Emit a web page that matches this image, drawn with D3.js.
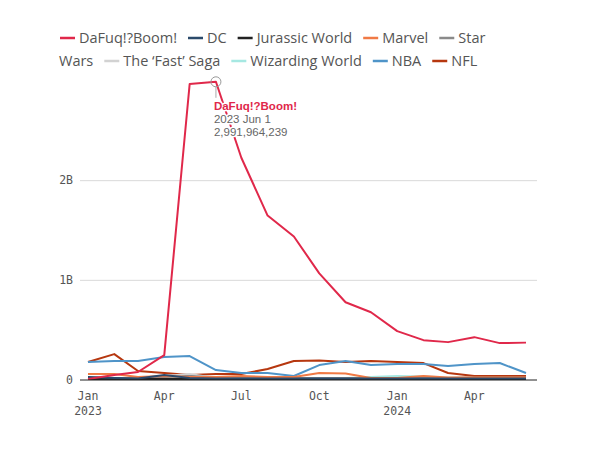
<!DOCTYPE html>
<html>
<head>
<meta charset="utf-8">
<script src="https://cdn.jsdelivr.net/npm/d3@7"></script>
<style>
  body { margin: 0; background: #fff; }
</style>
</head>
<body>
<div id="chart"></div>
<script>

// monthly values, millions
var meses = ["2023-01-01","2023-02-01","2023-03-01","2023-04-01","2023-05-01","2023-06-01",
             "2023-07-01","2023-08-01","2023-09-01","2023-10-01","2023-11-01","2023-12-01",
             "2024-01-01","2024-02-01","2024-03-01","2024-04-01","2024-05-01","2024-06-01"];

var nombres = ["DaFuq!?Boom!", "DC", "Jurassic World", "Marvel", "Star Wars",
               "The \u2018Fast\u2019 Saga", "Wizarding World", "NBA", "NFL"];
var colores = ["#e0284a", "#2b4a6b", "#222222", "#f07a45", "#8a8a8a",
               "#d2d2d2", "#a6e8e2", "#4f94c8", "#b6370f"];

var dafuq     = [10, 50, 80, 250, 2970, 2991.964239, 2230, 1650, 1440, 1070, 780, 680, 490, 400, 380, 430, 370, 375];
var dc        = [30, 20, 15, 50, 20, 15, 15, 15, 15, 15, 15, 15, 15, 15, 15, 15, 15, 15];
var jurassic  = [10, 10, 10, 10, 10, 10, 10, 10, 10, 10, 10, 10, 10, 10, 10, 10, 10, 10];
var marvel    = [60, 60, 30, 40, 30, 30, 40, 30, 30, 70, 65, 20, 20, 40, 25, 25, 25, 25];
var starWars  = [25, 20, 20, 30, 40, 25, 20, 20, 20, 20, 20, 20, 20, 20, 20, 25, 25, 25];
var fastSaga  = [10, 10, 15, 40, 60, 20, 10, 10, 10, 10, 10, 10, 10, 10, 10, 10, 10, 10];
var wizarding = [20, 20, 20, 20, 20, 20, 20, 20, 20, 20, 20, 30, 40, 35, 25, 20, 20, 20];
var nba       = [180, 190, 190, 230, 240, 100, 70, 70, 40, 150, 190, 150, 160, 160, 140, 160, 170, 70];
var nfl       = [180, 260, 90, 70, 50, 60, 60, 110, 190, 195, 180, 190, 180, 170, 70, 40, 40, 40];

var yTicks = [0, 1000, 2000];
var yTickLabels = ["0", "1B", "2B"];

var series = [dafuq, dc, jurassic, marvel, starWars, fastSaga, wizarding, nba, nfl];

var svg = d3.select("#chart").append("svg")
    .attr("width", 600).attr("height", 450);

InicializaGrafico();

function InicializaGrafico() {
    dibujaLeyenda();
    dibujaLineas();
}

function dibujaLeyenda() {
    var g = svg.append("g")
        .attr("font-family", "Open Sans, sans-serif")
        .attr("font-size", 14.5)
        .attr("fill", "#555");
    var x0 = 59, maxX = 500, cx = x0, cy = 38;

    var medir = function (t) {
        var tmp = g.append("text").text(t);
        var w = tmp.node().getComputedTextLength();
        tmp.remove();
        return w;
    };

    for (var i = 0; i < nombres.length; i++) {
        var palabras = nombres[i].split(" ");
        if (cx + 19 + medir(palabras[0]) > maxX) { cx = x0; cy += 23; }
        g.append("line")
            .attr("x1", cx + 1).attr("x2", cx + 16)
            .attr("y1", cy).attr("y2", cy)
            .attr("stroke", colores[i]).attr("stroke-width", 2.5);
        cx += 20;
        var linea = palabras[0];
        for (var p = 1; p < palabras.length; p++) {
            var prueba = linea + " " + palabras[p];
            if (cx + medir(prueba) > maxX) {
                g.append("text").attr("x", cx).attr("y", cy).attr("dy", "0.35em").text(linea);
                cx = x0; cy += 23;
                linea = palabras[p];
            } else {
                linea = prueba;
            }
        }
        g.append("text").attr("x", cx).attr("y", cy).attr("dy", "0.35em").text(linea);
        cx += medir(linea) + 10;
    }
}

function dibujaLineas() {
    var parse = d3.timeParse("%Y-%m-%d");
    var fechas = meses.map(parse);

    var x = d3.scaleTime().domain(d3.extent(fechas)).range([88, 526]);
    var y = d3.scaleLinear().domain([0, 3000]).range([380, 81]);

    // grid
    svg.append("g").selectAll("line")
        .data(yTicks.slice(1))
        .join("line")
        .attr("x1", 80).attr("x2", 537)
        .attr("y1", function (d) { return y(d); })
        .attr("y2", function (d) { return y(d); })
        .attr("stroke", "#d9d9d9").attr("stroke-width", 1);

    svg.append("g").selectAll("text")
        .data(yTicks)
        .join("text")
        .attr("x", 73)
        .attr("y", function (d) { return y(d); })
        .attr("dy", "0.32em")
        .attr("text-anchor", "end")
        .attr("font-family", "DejaVu Sans Mono, monospace")
        .attr("font-size", 11.5)
        .attr("fill", "#555")
        .text(function (d, i) { return yTickLabels[i]; });

    // lineas
    var linea = d3.line()
        .x(function (d, i) { return x(fechas[i]); })
        .y(function (d) { return y(d); });

    for (var s = series.length - 1; s >= 0; s--) {
        svg.append("path")
            .datum(series[s])
            .attr("fill", "none")
            .attr("stroke", colores[s])
            .attr("stroke-width", 2)
            .attr("stroke-linejoin", "round")
            .attr("d", linea);
    }

    // eje cero
    svg.append("line")
        .attr("x1", 80).attr("x2", 537)
        .attr("y1", y(0)).attr("y2", y(0))
        .attr("stroke", "#222").attr("stroke-width", 1);

    // eje x
    var ticks = x.ticks(d3.timeMonth.every(3));
    var gx = svg.append("g").selectAll("text")
        .data(ticks)
        .join("text")
        .attr("x", function (d) { return x(d); })
        .attr("y", 400)
        .attr("text-anchor", "middle")
        .attr("font-family", "DejaVu Sans Mono, monospace")
        .attr("font-size", 11.5)
        .attr("fill", "#555");
    gx.append("tspan").attr("x", function (d) { return x(d); })
        .text(function (d) { return d3.timeFormat("%b")(d); });
    gx.append("tspan").attr("x", function (d) { return x(d); }).attr("dy", 14.5)
        .text(function (d) { return d.getMonth() == 0 ? d3.timeFormat("%Y")(d) : ""; });

    // tooltip en el pico
    var idx = 5;
    var px = x(fechas[idx]), py = y(dafuq[idx]);
    svg.append("line")
        .attr("x1", px).attr("x2", px)
        .attr("y1", py + 5).attr("y2", py + 16)
        .attr("stroke", "#aaa").attr("stroke-width", 1);
    svg.append("circle")
        .attr("cx", px).attr("cy", py).attr("r", 5)
        .attr("fill", "none").attr("stroke", "#999").attr("stroke-width", 1);

    var textos = [
        { t: nombres[0], c: colores[0], w: "bold" },
        { t: d3.timeFormat("%Y %b %-d")(fechas[idx]), c: "#666", w: "normal" },
        { t: d3.format(",")(Math.round(dafuq[idx] * 1e6)), c: "#666", w: "normal" }
    ];
    svg.append("g").selectAll("text")
        .data(textos)
        .join("text")
        .attr("x", px - 2)
        .attr("y", function (d, i) { return py + 28 + i * 13; })
        .attr("font-family", "Liberation Sans, Arial, sans-serif")
        .attr("font-size", 11.5)
        .attr("font-weight", function (d) { return d.w; })
        .attr("fill", function (d) { return d.c; })
        .attr("stroke", "#fff").attr("stroke-width", 3)
        .attr("paint-order", "stroke")
        .attr("stroke-linejoin", "round")
        .text(function (d) { return d.t; });
}
</script>
</body>
</html>
